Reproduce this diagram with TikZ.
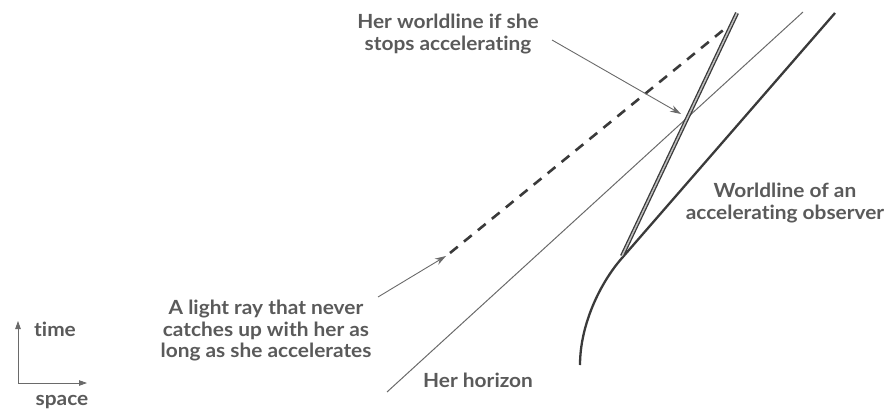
\documentclass[tikz,border=0pt]{standalone}
\usepackage{fontspec}
\setmainfont{Lato}[Ligatures=NoCommon,FakeStretch=1.07]
\usetikzlibrary{arrows.meta}
\definecolor{ink}{HTML}{3A3A3A}
\definecolor{txt}{HTML}{5A5A5A}
\definecolor{greyln}{HTML}{6A6A6A}
\begin{document}
\begin{tikzpicture}[x=1pt,y=-1pt,
  lbl/.style={text=txt,font=\bfseries\fontsize{19.5}{21.5}\selectfont,align=center,inner sep=0pt},
  ptr/.style={draw=greyln,line width=0.9pt,-{Stealth[length=11pt,width=7pt]}},
  axis/.style={draw=greyln,line width=0.8pt,-{Triangle[length=8pt,width=5.5pt]}}]
\useasboundingbox (0,0) rectangle (891,412);
% coordinates
\coordinate (hzA) at (387,392);
\coordinate (hzB) at (803,12);
\coordinate (wlA) at (580,365);
\coordinate (wlK) at (622,258);
\coordinate (wlB) at (835,13);
\coordinate (stA) at (622,256);
\coordinate (stB) at (737,13);
\coordinate (dsA) at (450,253);
\coordinate (dsB) at (727,27);
\coordinate (arLtip) at (446,256);
\coordinate (arLtail) at (378,297);
\coordinate (arWtail) at (552,40);
\coordinate (arWtip) at (681,114);
\coordinate (ax0) at (18,383);
\coordinate (axT) at (18,321);
\coordinate (axS) at (87,383);
% horizon
\draw[greyln,line width=1pt] (hzA) -- (hzB);
% dashed light ray
\draw[ink,line width=2.6pt,dash pattern=on 10pt off 8pt] (dsA) -- (dsB);
% accelerating worldline
\draw[ink,line width=2.3pt] (wlA) .. controls (580,325) and (600,283) .. (wlK) -- (wlB);
% worldline if she stops accelerating
\draw[ink,line width=1.3pt,double=gray!50,double distance=1.5pt] (stA) -- (stB);
% labels
\node[lbl] (stop) at (448,34) {Her worldline if she\\stops accelerating};
\node[lbl] (acc) at (785,203) {Worldline of an\\accelerating observer};
\node[lbl] (ray) at (266,331) {A light ray that never\\catches up with her as\\long as she accelerates};
\node[lbl,anchor=west] (hor) at (423,380) {Her horizon};
\node[lbl,anchor=west] (time) at (34,329) {time};
\node[lbl] (space) at (62,402) {space};
% pointers
\draw[ptr] (arLtail) -- (arLtip);
\draw[ptr] (arWtail) -- (arWtip);
% axes
\draw[axis] (ax0) -- (axT);
\draw[axis] (ax0) -- (axS);
\end{tikzpicture}
\end{document}
